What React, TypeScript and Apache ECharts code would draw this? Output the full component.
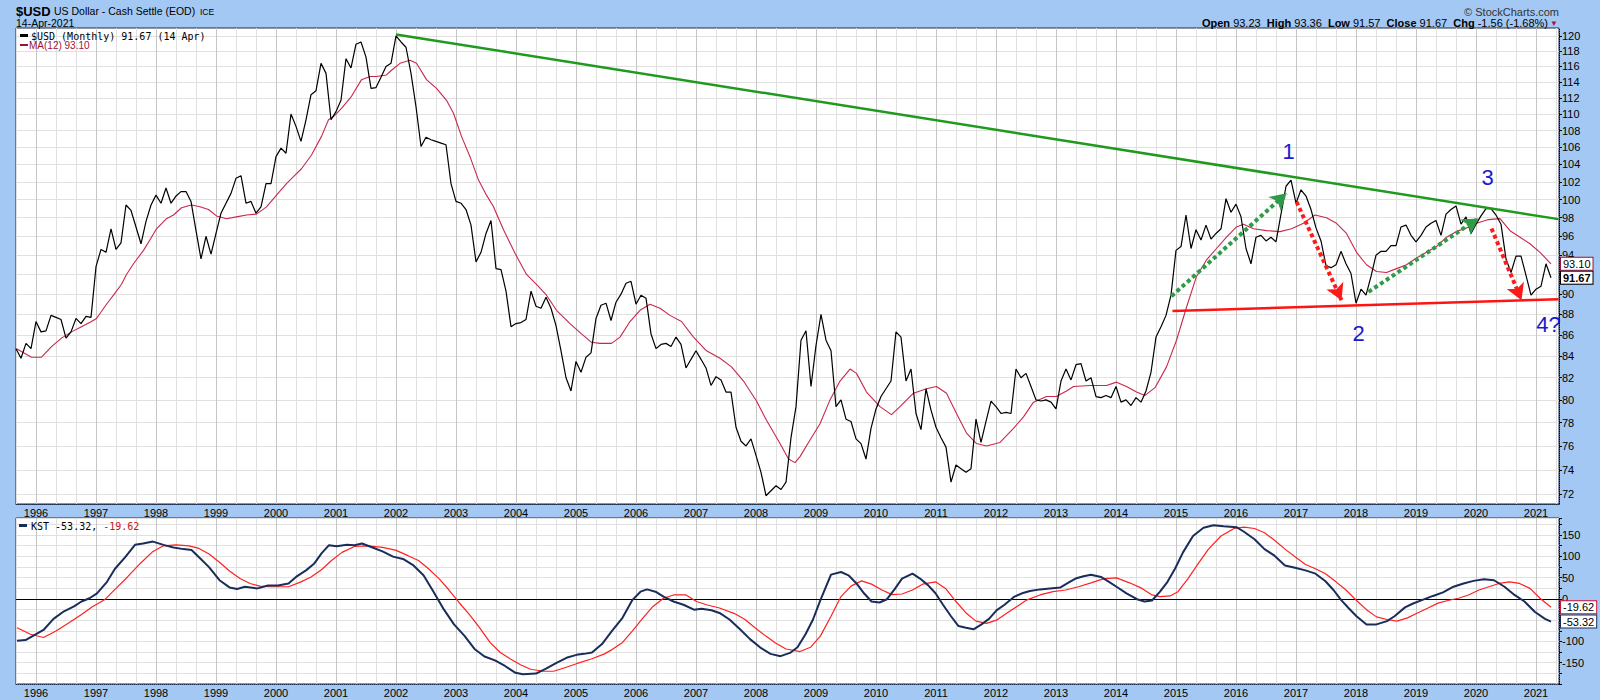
import React, { useEffect, useRef } from "react";
import * as echarts from "echarts";

// x values are months counted from Jan 1995; the series starts Sep 1995
const START_MONTH = 8;
const FIRST_YEAR = 1995;
const X_MAX = 316.6;

// $USD monthly close, Sep 1995 .. Apr 2021
const usdMonthlyClose = [
  84.7, 83.8, 85.2, 84.7, 87.3, 86.3, 86.4, 87.9, 87.7, 87.5,
  85.7, 86.3, 87.6, 87.1, 87.8, 87.7, 92.8, 94.6, 94.3, 96.8,
  94.6, 95.3, 99.4, 98.8, 97.0, 95.2, 97.6, 99.4, 100.5, 99.6,
  101.3, 99.6, 100.4, 100.9, 100.9, 99.8, 96.6, 93.6, 96.0, 94.1,
  96.3, 98.5, 99.6, 100.7, 102.4, 102.7, 99.6, 99.8, 98.5, 99.2,
  101.8, 101.8, 104.9, 105.9, 105.3, 110.0, 108.5, 106.7, 109.3, 112.4,
  112.9, 116.4, 115.1, 109.3, 110.3, 111.7, 117.0, 115.8, 118.9, 119.2,
  117.2, 113.2, 113.3, 114.6, 116.0, 116.4, 120.0, 119.2, 118.5, 115.1,
  110.9, 106.1, 107.2, 106.9, 106.7, 106.5, 106.3, 101.8, 99.8, 99.6,
  98.9, 97.2, 93.3, 94.3, 96.3, 97.7, 92.6, 92.5, 90.3, 86.8,
  87.1, 87.2, 87.5, 90.3, 88.8, 88.6, 89.7, 88.6, 86.9, 84.5,
  82.0, 80.8, 83.5, 82.5, 83.9, 84.3, 87.6, 88.9, 89.1, 87.4,
  89.2, 90.0, 91.1, 91.3, 89.0, 89.9, 89.6, 86.1, 84.7, 85.1,
  85.2, 84.9, 85.8, 85.1, 82.9, 83.7, 84.5, 83.7, 82.9, 81.3,
  82.1, 81.8, 80.7, 80.7, 77.6, 76.4, 76.0, 76.6, 75.2, 73.8,
  71.9, 72.3, 72.7, 72.4, 73.0, 76.7, 79.4, 85.5, 86.4, 81.2,
  85.0, 88.0, 85.5, 84.5, 79.4, 80.0, 78.3, 78.1, 76.6, 76.2,
  74.9, 77.5, 79.2, 80.3, 81.0, 81.7, 86.3, 85.8, 81.7, 82.8,
  78.8, 77.4, 81.0, 79.1, 77.6, 76.7, 75.9, 73.0, 74.4, 74.1,
  73.8, 74.1, 78.3, 76.3, 78.1, 79.9, 79.4, 78.8, 78.9, 78.8,
  82.8, 82.0, 82.4, 81.2, 80.0, 79.9, 80.0, 79.8, 79.2, 81.7,
  82.8, 81.8, 83.2, 83.3, 81.7, 82.0, 80.3, 80.2, 80.4, 80.2,
  81.2, 79.8, 80.0, 79.5, 80.2, 79.8, 80.8, 82.5, 85.8, 86.8,
  87.9, 89.9, 94.5, 94.9, 98.3, 94.7, 96.7, 95.6, 97.2, 95.7,
  96.3, 96.8, 100.1, 98.6, 99.5, 98.1, 94.7, 93.1, 95.9, 96.1,
  95.5, 95.9, 95.4, 98.4, 101.5, 102.2, 99.6, 101.1, 100.4, 98.9,
  96.9, 95.5, 92.9, 92.7, 93.0, 94.4, 93.1, 92.1, 89.1, 90.5,
  89.9, 91.8, 94.0, 94.4, 94.4, 95.0, 95.0, 97.0, 97.2, 96.1,
  95.4, 96.1, 97.0, 97.4, 97.7, 96.1, 98.4, 98.9, 99.3, 97.3,
  98.1, 96.3, 97.3, 98.2, 99.0, 99.0, 98.3, 97.3, 93.6, 92.2,
  93.9, 93.9, 91.9, 89.9, 90.5, 90.8, 93.1, 91.67,
];

// MA(12): [months after Sep 1995, value]
const ma12Points: [number, number][] = [
  [0.1, 84.7], [3.1, 83.9], [5.1, 83.9], [7.1, 84.9], [9.1, 85.7], [11.1, 86.3], [13.1, 86.8], [15.1, 87.3],
  [16.1, 87.6], [18.1, 89.0], [19.8, 90.1], [21.1, 91.0], [22.1, 92.0], [23.5, 93.1], [25.5, 94.5], [27.1, 95.9],
  [28.1, 96.8], [30.1, 97.9], [31.5, 98.3], [33.1, 99.1], [35.1, 99.4], [36.8, 99.2], [38.5, 98.9], [40.1, 98.2],
  [42.1, 97.9], [44.1, 98.1], [46.1, 98.3], [48.1, 98.4], [50.1, 99.2], [52.1, 100.5], [54.1, 101.8], [55.5, 102.6],
  [57.1, 103.5], [59.1, 105.1], [61.1, 107.3], [62.5, 109.3], [63.5, 109.7], [65.1, 110.7], [67.1, 112.2], [69.1, 114.3],
  [70.8, 114.7], [72.1, 114.7], [74.1, 114.9], [75.1, 115.5], [76.8, 116.4], [78.8, 116.8], [80.1, 116.4], [82.1, 114.3],
  [84.1, 113.2], [86.1, 111.7], [87.5, 110.1], [89.1, 107.3], [90.8, 104.9], [92.5, 102.2], [94.1, 100.5], [95.5, 99.2],
  [97.5, 96.7], [99.8, 94.2], [102.1, 92.0], [104.1, 91.0], [106.1, 89.9], [108.1, 88.4], [110.8, 87.1], [113.1, 86.1],
  [115.1, 85.3], [116.8, 85.2], [119.1, 85.2], [120.8, 85.8], [122.8, 87.3], [124.8, 88.4], [126.8, 89.0], [128.8, 88.6],
  [130.8, 87.9], [133.1, 87.3], [135.5, 85.8], [138.1, 84.5], [140.8, 83.8], [143.1, 83.0], [145.5, 81.7], [148.1, 79.9],
  [150.1, 78.2], [152.8, 76.2], [154.5, 74.9], [155.8, 74.6], [156.8, 75.1], [158.8, 76.5], [160.8, 77.9], [162.8, 80.0],
  [164.8, 81.7], [166.8, 82.8], [168.1, 82.4], [170.1, 80.7], [172.8, 79.4], [175.1, 78.7], [176.8, 79.4], [179.5, 80.6],
  [182.1, 81.0], [184.1, 81.2], [186.1, 80.6], [188.1, 78.8], [190.1, 77.1], [192.1, 76.2], [194.1, 76.0], [196.8, 76.3],
  [199.5, 77.5], [201.5, 78.5], [203.5, 79.8], [206.1, 80.3], [208.1, 80.3], [210.1, 80.8], [211.5, 81.2], [214.8, 81.3],
  [218.1, 81.3], [220.1, 81.6], [222.1, 81.2], [224.1, 80.7], [225.8, 80.4], [227.8, 81.1], [230.1, 83.0], [232.1, 85.5],
  [234.1, 88.7], [236.1, 91.8], [238.1, 93.5], [240.1, 94.7], [242.1, 95.9], [244.1, 97.0], [245.5, 97.3], [247.5, 96.8],
  [250.1, 96.6], [252.8, 96.5], [255.1, 96.8], [257.5, 97.4], [259.8, 98.3], [262.1, 98.0], [264.1, 97.4], [266.1, 96.3],
  [268.1, 94.3], [270.1, 93.0], [272.1, 92.3], [274.1, 92.2], [276.1, 92.6], [278.1, 93.0], [280.1, 93.7], [282.1, 94.3],
  [284.1, 94.9], [286.1, 95.9], [288.1, 96.5], [290.1, 96.9], [292.1, 97.4], [294.5, 97.8], [296.8, 97.9], [298.8, 96.6],
  [300.8, 95.9], [302.8, 95.2], [304.8, 94.3], [307, 93.1],
];

// KST: [months after Sep 1995, value]
const kstPoints: [number, number][] = [
  [0.2, -98.5], [1.9, -96.9], [3.4, -86.9], [5.5, -73.1], [7.5, -46.9], [9.6, -29.2], [11.6, -17.7], [13.1, -6.2],
  [14.7, 1.5], [16.2, 13.1], [18.2, 40], [19.8, 70.8], [21.8, 97.7], [23.8, 126.9], [25.4, 130], [27.4, 134.6],
  [29.5, 126.9], [31.5, 120.8], [33.5, 116.9], [35.1, 114.6], [36.6, 97.7], [38.6, 74.6], [40.7, 43.8], [42.7, 26.9],
  [44.2, 23.1], [45.8, 28.5], [48.3, 24.6], [50.4, 31.5], [52.4, 31.5], [54.5, 36.2], [56, 51.5], [58, 66.9],
  [59.6, 82.3], [61.1, 106.9], [62.6, 126.2], [64.1, 123.8], [66.2, 126.9], [67.7, 126.2], [69.2, 130], [71.3, 120.8],
  [73.3, 111.5], [75.4, 99.2], [77.4, 93.8], [79.5, 78.5], [81.5, 55.4], [83.5, 16.9], [85.6, -25.4], [87.6, -60],
  [89.7, -86.9], [91.7, -117.7], [93.7, -135.4], [95.8, -144.6], [97.8, -157.7], [99.9, -173.8], [101.4, -176.9], [104, -175.4],
  [106, -163.8], [108, -150.8], [110.1, -138.5], [112.1, -131.5], [113.6, -129.2], [115.2, -126.2], [117.2, -106.2], [119.2, -75.4],
  [121.3, -44.6], [123.3, -2.3], [124.9, 16.9], [126.2, 22.3], [127.9, 16.9], [129.5, 5.4], [131.5, -6.2], [133.5, -13.8],
  [135.6, -25.4], [137.1, -23.1], [139.1, -26.9], [140.7, -33.1], [142.7, -48.5], [144.8, -71.5], [146.8, -94.6], [148.8, -113.8],
  [150.9, -129.2], [152.9, -134.6], [154.8, -127], [156.3, -113.8], [157.9, -83.1], [159.4, -48.5], [160.9, -2.3], [163, 56.9],
  [165, 63.1], [166.5, 55.4], [168.1, 36.2], [169.6, 13.1], [171.1, -6.2], [172.7, -8.5], [174.2, -0.8], [175.7, 22.3],
  [177.2, 47.7], [179.3, 59.2], [180.8, 47.7], [182.4, 32.3], [183.9, 13.1], [185.4, -13.8], [187, -40.8], [188.5, -63.8],
  [190, -67.7], [191.5, -71.5], [193.1, -60], [194.6, -46.9], [196.1, -26.9], [197.7, -13.8], [199.7, 5.4], [201.2, 13.1],
  [202.8, 18.5], [204.8, 22.3], [206.8, 24.6], [208.9, 26.9], [210.4, 37.7], [211.9, 47.7], [213.5, 53.1], [215, 56.9],
  [217, 51.5], [218.6, 40], [220.1, 28.5], [222.1, 13.1], [224.2, -0.8], [225.7, -6.2], [227.2, -3.8], [228.8, 16.9],
  [230.3, 40], [231.8, 70.8], [233.4, 109.2], [235.4, 147.7], [237.5, 166.9], [239.5, 173.1], [241.5, 170.8], [244.1, 168.5],
  [245.6, 157.7], [247.7, 140], [249.7, 116.9], [251.7, 101.5], [253.8, 78.5], [255.8, 73.1], [257.9, 66.9], [259.9, 59.2],
  [261.9, 41.5], [263.5, 20.8], [265, -2.3], [266.5, -21.5], [268.1, -40.8], [270.1, -60], [272.1, -60], [274.2, -52.3],
  [275.7, -40.8], [277.8, -20], [279.3, -11.5], [281.3, -2.3], [283.4, 6.9], [285.4, 15.4], [287.5, 28.5], [289.5, 36.2],
  [291.5, 42.3], [293.6, 46.2], [295.6, 43.8], [297.7, 28.5], [299.7, 9.2], [301.7, -6.2], [303.8, -30.8], [305.8, -46.9],
  [307, -53.32],
];

// KST signal line
const kstSignalPoints: [number, number][] = [
  [0.2, -67.7], [2.9, -83.1], [5.5, -90.8], [8, -75.4], [10.6, -56.2], [13.1, -36.9], [15.2, -19.2], [17.7, -2.3],
  [19.8, 22.3], [22.3, 51.5], [24.9, 83.8], [27.4, 111.5], [29.5, 124.6], [32, 126.9], [34.6, 124.6], [36.6, 118.5],
  [38.6, 105.4], [40.7, 86.2], [42.7, 65.4], [44.8, 47.7], [46.8, 36.2], [48.8, 30], [50.9, 28.5], [54.5, 28.5],
  [57, 40], [59, 51.5], [61.1, 68.5], [63.1, 90], [65.2, 109.2], [67.7, 123.1], [70.3, 124.6], [73.3, 120.8],
  [75.9, 114.6], [78.4, 101.5], [80.5, 90], [82.5, 70.8], [84.6, 47.7], [86.6, 20.8], [88.6, -8.5], [90.7, -36.9],
  [92.7, -67.7], [94.8, -102.3], [96.8, -125.4], [98.8, -140.8], [100.9, -154.6], [102.9, -165.4], [105.5, -170], [107.5, -170],
  [109.6, -162.3], [112.1, -152.3], [115.2, -140.8], [117.7, -129.2], [119.2, -119.2], [121.3, -102.3], [123.3, -75.4], [125.4, -44.6],
  [127.4, -17.7], [129.5, 1.5], [131.5, 9.2], [134, 9.2], [136.1, -6.2], [138.1, -13.8], [140.7, -21.5], [143.7, -34.6],
  [145.8, -48.5], [147.8, -67.7], [149.9, -86.9], [151.9, -103.8], [154, -117.7], [156.8, -123.8], [158.9, -113.8], [160.9, -86.9],
  [163, -40.8], [165, 5.4], [167, 30], [169.1, 42.3], [171.1, 34.6], [173.2, 20.8], [175.2, 10], [177.2, 11.5],
  [179.3, 20.8], [181.3, 34.6], [183.9, 40], [185.9, 24.6], [188, -6.2], [190, -33.1], [192, -52.3], [194.1, -57.7],
  [196.1, -50], [198.2, -33.1], [200.2, -17.7], [202.2, -2.3], [204.8, 9.2], [207.4, 16.9], [209.9, 20.8], [212.5, 28.5],
  [215, 37.7], [217.6, 47.7], [220.1, 49.2], [222.7, 37.7], [225.2, 24.6], [227.2, 9.2], [228.8, 5.4], [230.8, 6.9],
  [232.4, 16.9], [234.4, 47.7], [236.4, 82.3], [238.5, 116.9], [241, 147.7], [243.6, 165.4], [245.6, 168.5], [247.7, 165.4],
  [249.7, 155.4], [251.7, 137.7], [253.8, 116.9], [255.8, 99.2], [257.9, 80.8], [259.9, 70.8], [261.9, 59.2], [264, 40],
  [266, 20.8], [268.1, -3.8], [270.1, -25.4], [272.1, -42.3], [274.2, -48.5], [276.2, -52.3], [278.3, -44.6], [280.3, -33.1],
  [282.4, -21.5], [284.4, -10], [286.4, -3.8], [288.5, 1.5], [290.5, 9.2], [292.6, 20.8], [294.6, 28.5], [296.6, 36.2],
  [298.7, 40], [300.7, 36.2], [302.8, 24.6], [304.8, 1.5], [307, -19.62],
];

// axis ticks; labels hidden under the value tags are left out of the label lists
const priceTicks = [72, 74, 76, 78, 80, 82, 84, 86, 88, 90, 92, 94, 96, 98, 100, 102, 104, 106, 108, 110, 112, 114, 116, 118, 120];
const priceLabelTicks = [72, 74, 76, 78, 80, 82, 84, 86, 88, 90, 94, 96, 98, 100, 102, 104, 106, 108, 110, 112, 114, 116, 118, 120];
const kstLabelValues = [-150, -100, 0, 50, 100, 150];

// annotations: [months after Sep 1995, value]
const resistanceLine: [number, number][] = [[76, 120.2], [308.5, 97.85]];
const supportLine: [number, number][] = [[231.3, 88.33], [308.5, 89.5]];
const greenArrows: [number, number][][] = [
  [[231.1, 89.8], [254.1, 100.7]],
  [[270.5, 90.23], [292.5, 97.93]],
];
const redArrows: [number, number][][] = [
  [[256.1, 99.76], [265.1, 89.4]],
  [[295.1, 96.84], [301.1, 89.4]],
];
const waveLabels: [string, number, number][] = [
  ["1", 254.5, 105.5],
  ["2", 268.5, 86.15],
  ["3", 294.3, 102.5],
  ["4?", 307.5, 87.3],
];

const FONT = '"Liberation Sans", Arial, sans-serif';
const MONO = '"DejaVu Sans Mono", monospace';
const BG = "#a4c8f4";
const GRID_LIGHT = "#e0e0e0";
const GRID_DARK = "#c6c6c6";

const toX = (i: number) => START_MONTH + i;

const fmtYear = (v: number) => (Math.abs(v % 12) < 1e-6 ? String(FIRST_YEAR + v / 12) : "");

function xAxis(gridIndex: number) {
  return {
    type: "value",
    gridIndex,
    min: START_MONTH,
    max: X_MAX,
    interval: 4,
    axisLine: { show: true, onZero: false, lineStyle: { color: "#1a2a4a", type: "dotted", width: 1 } },
    axisTick: { show: false },
    axisLabel: { formatter: fmtYear, fontSize: 11, color: "#000", fontFamily: FONT, margin: 3, hideOverlap: false },
    splitLine: { show: true, lineStyle: { color: [GRID_LIGHT, GRID_DARK, GRID_LIGHT], width: 1 } },
  };
}

const tagLabel = (border: string, bold: boolean) => ({
  show: true,
  formatter: (p: any) => Number(p.value[1]).toFixed(2),
  fontFamily: FONT,
  fontSize: 11,
  fontWeight: bold ? "bold" : "normal",
  color: "#000",
  backgroundColor: "#fff",
  borderColor: border,
  borderWidth: 1,
  padding: [1, 2, 0, 2],
  distance: 10,
});

function buildOption() {
  const arrowItem = (seg: [number, number][], color: string) => [
    {
      coord: [toX(seg[0][0]), seg[0][1]],
      symbol: "none",
      lineStyle: { color, width: 4, type: [4, 3] },
    },
    { coord: [toX(seg[1][0]), seg[1][1]], symbol: "arrow", symbolSize: [14, 16] },
  ];
  const solidItem = (seg: [number, number][], color: string) => [
    { coord: [toX(seg[0][0]), seg[0][1]], symbol: "none", lineStyle: { color, width: 2.5, type: "solid" } },
    { coord: [toX(seg[1][0]), seg[1][1]], symbol: "none" },
  ];

  return {
    animation: false,
    backgroundColor: BG,
    grid: [
      { left: 16, top: 28, width: 1543, height: 476, show: true, backgroundColor: "#fff", borderColor: "#1a2a4a", borderWidth: 1 },
      { left: 16, top: 518, width: 1543, height: 166, show: true, backgroundColor: "#fff", borderColor: "#1a2a4a", borderWidth: 1 },
    ],
    xAxis: [xAxis(0), xAxis(1)],
    yAxis: [
      {
        type: "log",
        logBase: 10,
        gridIndex: 0,
        position: "right",
        min: 71.24,
        max: 121.07,
        axisLine: { show: true, lineStyle: { color: "#000", type: "dotted" } },
        axisTick: { show: true, length: 3, customValues: priceTicks, lineStyle: { color: "#000" } },
        axisLabel: { customValues: priceLabelTicks, fontSize: 11, color: "#000", fontFamily: FONT, margin: 3 },
        splitLine: { show: true, lineStyle: { color: GRID_LIGHT } },
      },
      {
        type: "value",
        gridIndex: 1,
        position: "right",
        min: -200,
        max: 190,
        interval: 25,
        axisLine: { show: true, lineStyle: { color: "#000", type: "dotted" } },
        axisTick: { show: true, length: 3, lineStyle: { color: "#000" } },
        axisLabel: {
          formatter: (v: number) => (kstLabelValues.includes(v) ? String(v) : ""),
          fontSize: 11,
          color: "#000",
          fontFamily: FONT,
          margin: 3,
        },
        splitLine: { show: true, lineStyle: { color: GRID_LIGHT } },
      },
    ],
    series: [
      {
        name: "MA(12)",
        type: "line",
        xAxisIndex: 0,
        yAxisIndex: 0,
        data: ma12Points.map(([i, v]) => [toX(i), v]),
        symbol: "none",
        lineStyle: { color: "#c8284a", width: 1.1 },
        z: 3,
        endLabel: tagLabel("#a0103a", false),
      },
      {
        name: "$USD",
        type: "line",
        xAxisIndex: 0,
        yAxisIndex: 0,
        data: usdMonthlyClose.map((v, k) => [toX(k), v]),
        symbol: "none",
        lineStyle: { color: "#000", width: 1.2 },
        z: 4,
        endLabel: tagLabel("#000", true),
        markLine: {
          silent: true,
          symbol: "none",
          label: { show: false },
          z: 6,
          data: [
            solidItem(resistanceLine, "#1f9a1f"),
            solidItem(supportLine, "#ff1414"),
            ...greenArrows.map((s) => arrowItem(s, "#2f9a48")),
            ...redArrows.map((s) => arrowItem(s, "#ff1a1a")),
          ],
        },
        markPoint: {
          silent: true,
          symbol: "circle",
          symbolSize: 1,
          itemStyle: { color: "rgba(0,0,0,0)" },
          label: {
            show: true,
            position: "inside",
            formatter: "{b}",
            color: "#1a1ad0",
            fontSize: 22,
            fontFamily: FONT,
          },
          data: waveLabels.map(([t, i, v]) => ({
            name: t,
            coord: [toX(i), v],
            label: t === "4?" ? { offset: [-5, 3] } : undefined,
          })),
        },
      },
      {
        name: "KST signal",
        type: "line",
        xAxisIndex: 1,
        yAxisIndex: 1,
        data: kstSignalPoints.map(([i, v]) => [toX(i), v]),
        symbol: "none",
        lineStyle: { color: "#ff2020", width: 1.2 },
        z: 3,
        endLabel: tagLabel("#d0103a", false),
        markLine: {
          silent: true,
          symbol: "none",
          label: { show: false },
          z: 2,
          lineStyle: { color: "#000", width: 1, type: "solid" },
          data: [{ yAxis: 0 }],
        },
      },
      {
        name: "KST",
        type: "line",
        xAxisIndex: 1,
        yAxisIndex: 1,
        data: kstPoints.map(([i, v]) => [toX(i), v]),
        symbol: "none",
        lineStyle: { color: "#1a2d5a", width: 2 },
        z: 4,
        endLabel: tagLabel("#1a2d5a", false),
      },
    ],
    graphic: [
      { type: "text", x: 16, y: 11, z: 100, style: { text: "$USD", font: `bold 13px ${FONT}`, fill: "#000", verticalAlign: "middle" } },
      { type: "text", x: 54, y: 11, z: 100, style: { text: "US Dollar - Cash Settle (EOD)", font: `10.5px ${FONT}`, fill: "#000", verticalAlign: "middle" } },
      { type: "text", x: 200, y: 11.5, z: 100, style: { text: "ICE", font: `8.5px ${FONT}`, fill: "#000", verticalAlign: "middle" } },
      { type: "text", x: 16, y: 23, z: 100, style: { text: "14-Apr-2021", font: `10.5px ${FONT}`, fill: "#000", verticalAlign: "middle" } },
      { type: "text", x: 1559, y: 12, z: 100, style: { text: "© StockCharts.com", font: `11px ${FONT}`, fill: "#333", align: "right", verticalAlign: "middle" } },
      {
        type: "text",
        x: 1548,
        y: 23,
        z: 100,
        style: {
          text: "{b|Open} 93.23  {b|High} 93.36  {b|Low} 91.57  {b|Close} 91.67  {b|Chg} -1.56 (-1.68%)",
          font: `11px ${FONT}`,
          fill: "#000",
          align: "right",
          verticalAlign: "middle",
          rich: { b: { fontWeight: "bold", fontSize: 11, fontFamily: FONT, fill: "#000" } },
        },
      },
      { type: "text", x: 1554, y: 23, z: 100, style: { text: "▼", font: `8px ${FONT}`, fill: "#b0104a", align: "center", verticalAlign: "middle" } },
      { type: "rect", z: 100, shape: { x: 20, y: 34, width: 8, height: 3 }, style: { fill: "#000" } },
      { type: "text", x: 31, y: 36, z: 100, style: { text: "$USD (Monthly) 91.67 (14 Apr)", font: `10px ${MONO}`, fill: "#000", verticalAlign: "middle" } },
      { type: "rect", z: 100, shape: { x: 20, y: 44, width: 8, height: 2 }, style: { fill: "#a0103a" } },
      { type: "text", x: 29, y: 45.5, z: 100, style: { text: "MA(12) 93.10", font: `10px ${FONT}`, fill: "#a0103a", verticalAlign: "middle" } },
      { type: "rect", z: 100, shape: { x: 19, y: 524, width: 8, height: 3 }, style: { fill: "#1a2d5a" } },
      {
        type: "text",
        x: 31,
        y: 526,
        z: 100,
        style: {
          text: "{k|KST -53.32, }{r|-19.62}",
          verticalAlign: "middle",
          rich: {
            k: { fontFamily: MONO, fontSize: 10, fill: "#000" },
            r: { fontFamily: MONO, fontSize: 10, fill: "#d01010" },
          },
        },
      },
    ],
  };
}

export default function App() {
  const ref = useRef<HTMLDivElement>(null);
  useEffect(() => {
    if (!ref.current) return;
    const chart = echarts.init(ref.current, undefined, { renderer: "svg" });
    chart.setOption(buildOption() as any);
    return () => chart.dispose();
  }, []);
  return (
    <div
      ref={ref}
      style={{ position: "absolute", left: 0, top: 0, width: 1600, height: 700, background: BG }}
    />
  );
}
